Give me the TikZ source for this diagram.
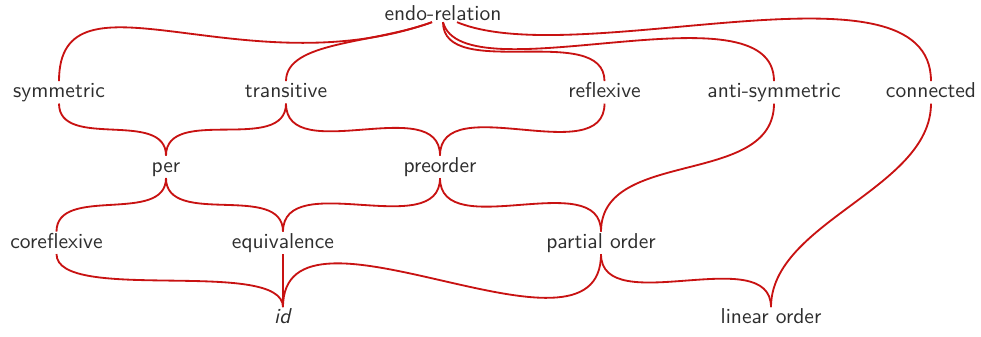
\documentclass[tikz,border=0pt]{standalone}
\usetikzlibrary{calc}

\definecolor{hasse}{RGB}{200,18,18}

\tikzset{
  lbl/.style={anchor=base, inner xsep=1pt, inner ysep=0.8pt, text height=6.6pt, text depth=1.8pt,
    text=black!82, font=\sffamily},
  link/.style={draw=hasse, line width=0.85pt},
}

\begin{document}
\begin{tikzpicture}[x=0.465pt, y=-0.465pt]

\useasboundingbox (0,0) rectangle (981,336);

\node[lbl, text depth=0pt] (L0_1) at (443,20) {endo-relation};

\node[lbl] (L1_1) at (59,97.5) {symmetric};
\node[lbl] (L1_2) at (286,97.5) {transitive};
\node[lbl] (L1_3) at (604.5,97.5) {reflexive};
\node[lbl] (L1_4) at (774,97.5) {anti-symmetric};
\node[lbl] (L1_5) at (931,97.5) {connected};

\node[lbl] (L2_1) at (166,172) {per};
\node[lbl] (L2_2) at (440,172) {preorder};

\node[lbl] (L3_1) at (56.5,248) {coreflexive};
\node[lbl] (L3_2) at (283,248) {equivalence};
\node[lbl] (L3_3) at (601,248) {partial order};

\node[lbl] (L4_1) at (283,323.5) {\textit{id}};
\node[lbl] (L4_2) at (771,323.5) {linear order};

\coordinate (E_l) at ($(L0_1.south)+(-11,0)$);
\coordinate (E_r) at ($(L0_1.south)+(14,0)$);

\draw[link] (E_l) .. controls +(-188,67) and +(0,-120) .. (L1_1.north);
\draw[link] (E_l) .. controls +(-60,22) and +(0,-40) .. (L1_2.north);
\draw[link] (L0_1.south) .. controls +(0,60) and +(0,-60) .. (L1_3.north);
\draw[link] (L0_1.south) .. controls +(20,75) and +(0,-100) .. (L1_4.north);
\draw[link] (E_r) .. controls +(120,50) and +(0,-130) .. (L1_5.north);

\draw[link] (L1_1.south) .. controls +(0,47) and +(0,-47) .. (L2_1.north);
\draw[link] (L1_2.south) .. controls +(0,51) and +(0,-51) .. (L2_1.north);
\draw[link] (L1_2.south) .. controls +(0,64) and +(0,-64) .. (L2_2.north);
\draw[link] (L1_3.south) .. controls +(0,67) and +(0,-67) .. (L2_2.north);
\draw[link] (L1_4.south) .. controls +(0,84) and +(0,-84) .. (L3_3.north);
\draw[link] (L1_5.south) .. controls +(0,85) and +(0,-85) .. (L4_2.north);

\draw[link] (L2_1.south) .. controls +(0,47) and +(0,-47) .. (L3_1.north);
\draw[link] (L2_1.south) .. controls +(0,50) and +(0,-50) .. (L3_2.north);
\draw[link] (L2_2.south) .. controls +(0,64) and +(0,-64) .. (L3_2.north);
\draw[link] (L2_2.south) .. controls +(0,66) and +(0,-66) .. (L3_3.north);

\draw[link] (L3_1.south) .. controls +(0,50) and +(0,-50) .. (L4_1.north);
\draw[link] (L3_2.south) -- (L4_1.north);
\draw[link] (L3_3.south) .. controls +(0,126) and +(0,-126) .. (L4_1.north);
\draw[link] (L3_3.south) .. controls +(0,66) and +(0,-66) .. (L4_2.north);

\end{tikzpicture}
\end{document}
